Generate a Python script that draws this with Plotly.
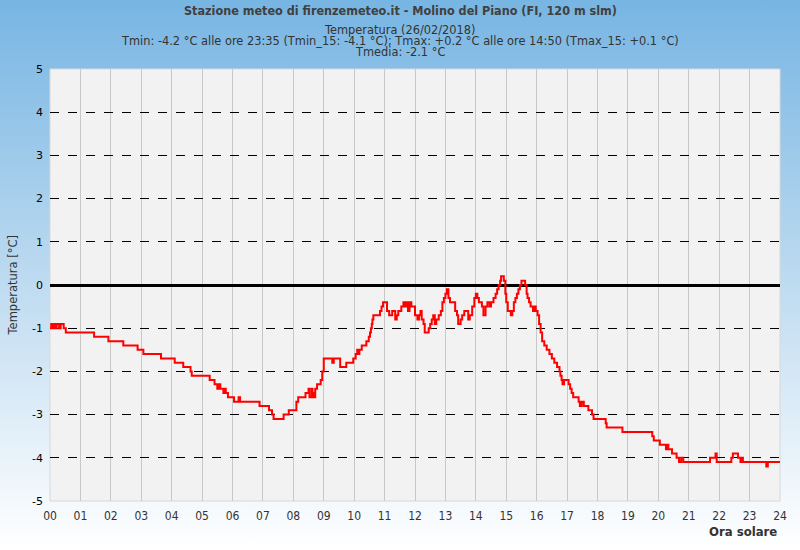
import base64
import plotly.graph_objects as go

# Step-change points of the temperature record (hour of day, °C)
hours = [
    0.00, 0.04, 0.08, 0.12, 0.17, 0.22, 0.30, 0.35, 0.45, 0.52,
    1.45, 1.92, 2.41, 2.88, 3.07, 3.65, 4.10, 4.38, 4.62, 4.66,
    5.25, 5.41, 5.50, 5.55, 5.60, 5.70, 5.74, 5.78, 5.85, 6.05, 6.20, 6.25,
    6.89, 7.20, 7.30, 7.35, 7.68, 7.85, 8.10, 8.16, 8.40, 8.50, 8.53, 8.60, 8.63, 8.66,
    8.72, 8.78, 8.90, 8.95, 9.00,
    9.28, 9.33, 9.54, 9.74, 9.97, 10.05, 10.10, 10.13, 10.17, 10.25, 10.40, 10.48,
    10.52, 10.55, 10.58, 10.60, 10.63, 10.85, 10.90, 10.95, 11.08, 11.15, 11.25,
    11.35, 11.40, 11.45, 11.55, 11.62, 11.68, 11.72, 11.77, 11.82, 11.88,
    12.00, 12.08, 12.13, 12.18, 12.22, 12.28, 12.32, 12.45, 12.50, 12.55, 12.60,
    12.65, 12.70, 12.78, 12.85, 12.90, 12.95, 13.00, 13.05, 13.10, 13.15, 13.25,
    13.32, 13.38, 13.42, 13.50, 13.55, 13.62, 13.75, 13.80, 13.88, 13.95, 14.00,
    14.05, 14.10, 14.20, 14.25, 14.32, 14.38, 14.45, 14.50, 14.58, 14.65, 14.70,
    14.75, 14.80, 14.83, 14.92, 14.97, 15.00, 15.05, 15.15, 15.20, 15.25, 15.30,
    15.35, 15.40, 15.45, 15.50, 15.62, 15.67, 15.70, 15.75, 15.80, 15.88, 15.92,
    15.97, 16.03, 16.08, 16.13, 16.18, 16.25, 16.33, 16.42, 16.50, 16.58, 16.67,
    16.75, 16.78, 16.82, 16.85, 16.90, 17.05, 17.10, 17.15, 17.20, 17.38, 17.42,
    17.48, 17.55, 17.70, 17.82, 17.87, 18.27, 18.30, 18.78, 18.82, 19.80, 19.85,
    20.05, 20.25, 20.30, 20.33, 20.45, 20.60, 20.68, 20.75, 20.82, 21.70, 21.88,
    21.92, 22.40, 22.45, 22.62, 22.70, 22.75, 22.78, 23.55, 23.60, 24.00,
]
temps = [
    -1.0, -0.9, -1.0, -0.9, -1.0, -0.9, -1.0, -0.9, -1.0, -1.1,
    -1.2, -1.3, -1.4, -1.5, -1.6, -1.7, -1.8, -1.9, -2.0, -2.1,
    -2.2, -2.3, -2.4, -2.3, -2.4, -2.5, -2.4, -2.5, -2.6, -2.7, -2.6, -2.7,
    -2.8, -2.9, -3.0, -3.1, -3.0, -2.9, -2.7, -2.6, -2.5, -2.4, -2.6, -2.4, -2.5, -2.6,
    -2.4, -2.3, -2.2, -2.0, -1.7,
    -1.8, -1.7, -1.9, -1.8, -1.7, -1.6, -1.5, -1.6, -1.5, -1.4, -1.3, -1.2,
    -1.1, -1.0, -0.9, -0.8, -0.7, -0.6, -0.5, -0.4, -0.6, -0.7, -0.6,
    -0.8, -0.7, -0.6, -0.5, -0.4, -0.5, -0.4, -0.6, -0.4, -0.5,
    -0.7, -0.8, -0.7, -0.6, -0.8, -0.9, -1.1, -1.0, -0.9, -0.8, -0.7,
    -0.9, -0.8, -0.7, -0.6, -0.4, -0.3, -0.2, -0.1, -0.3, -0.4, -0.4,
    -0.6, -0.7, -0.9, -0.8, -0.7, -0.6, -0.8, -0.7, -0.5, -0.3, -0.2,
    -0.3, -0.4, -0.5, -0.7, -0.5, -0.4, -0.5, -0.4, -0.3, -0.2, -0.1,
    0.0, 0.1, 0.2, 0.1, -0.2, -0.4, -0.6, -0.7, -0.6, -0.4, -0.3,
    -0.2, -0.1, 0.0, 0.1, 0.0, -0.2, -0.3, -0.4, -0.5, -0.6, -0.5,
    -0.6, -0.7, -0.9, -1.1, -1.3, -1.4, -1.5, -1.6, -1.7, -1.8, -1.9,
    -2.0, -2.1, -2.2, -2.3, -2.2, -2.3, -2.4, -2.5, -2.6, -2.7, -2.8,
    -2.7, -2.8, -2.9, -3.0, -3.1, -3.2, -3.3, -3.3, -3.4, -3.5, -3.6,
    -3.7, -3.8, -3.7, -3.8, -3.9, -4.0, -4.1, -4.0, -4.1, -4.0, -3.9,
    -4.1, -4.0, -3.9, -4.0, -4.1, -4.0, -4.1, -4.2, -4.1, -4.1,
]

x_tick_vals = list(range(0, 25))
x_tick_text = [f"{h:02d}" for h in x_tick_vals]
y_tick_vals = list(range(-5, 6))
y_tick_text = [str(v) for v in y_tick_vals]

title_text = "Stazione meteo di firenzemeteo.it - Molino del Piano (FI, 120 m slm)"
subtitle_lines = [
    "Temperatura (26/02/2018)",
    "Tmin: -4.2 °C alle ore 23:35 (Tmin_15: -4.1 °C); Tmax: +0.2 °C alle ore 14:50 (Tmax_15: +0.1 °C)",
    "Tmedia: -2.1 °C",
]

W, H = 800, 550
ML, MR, MT, MB = 50, 20, 69, 49
PW, PH = W - ML - MR, H - MT - MB

svg = (
    f'<svg xmlns="http://www.w3.org/2000/svg" width="{W}" height="{H}" preserveAspectRatio="none">'
    '<defs><linearGradient id="g" x1="0" y1="0" x2="0" y2="1">'
    '<stop offset="0" stop-color="#77b5e3"/>'
    '<stop offset="0.5" stop-color="#bcdaf0"/>'
    '<stop offset="1" stop-color="#ffffff"/>'
    '</linearGradient></defs>'
    f'<rect width="{W}" height="{H}" fill="url(#g)"/></svg>'
)
bg_src = "data:image/svg+xml;base64," + base64.b64encode(svg.encode()).decode()


def py(pix_y):
    """Convert a pixel row (from top of figure) to paper y."""
    return 1 - (pix_y - MT) / PH


def px(pix_x):
    return (pix_x - ML) / PW


fig = go.Figure()
fig.add_trace(go.Scatter(
    x=hours, y=temps, mode="lines", line=dict(color="#ff0000", width=2, shape="hv"),
    hoverinfo="x+y", showlegend=False,
))

cond = "DejaVu Sans Condensed, Liberation Sans Narrow, sans-serif"

annotations = [
    dict(text=f"<b>{title_text}</b>", xref="paper", yref="paper",
         x=px(400), y=py(10), xanchor="center", yanchor="middle",
         showarrow=False, font=dict(family=cond, size=12.5, color="#404040")),
]
for i, line in enumerate(subtitle_lines):
    annotations.append(dict(
        text=line, xref="paper", yref="paper",
        x=px(400), y=py(29.5 + 11.3 * i), xanchor="center", yanchor="middle",
        showarrow=False, font=dict(family="DejaVu Sans", size=11.4, color="#333333")))
annotations += [
    dict(text="<b>Ora solare</b>", xref="paper", yref="paper",
         x=px(779), y=py(531), xanchor="right", yanchor="middle",
         showarrow=False, font=dict(family=cond, size=13, color="#333333")),
    dict(text="Temperatura [°C]", xref="paper", yref="paper",
         x=px(12.5), y=py(286), xanchor="center", yanchor="middle", textangle=-90,
         showarrow=False, font=dict(family="DejaVu Sans", size=11.5, color="#333333")),
]

fig.update_layout(
    width=W, height=H,
    margin=dict(l=ML, r=MR, t=MT, b=MB),
    paper_bgcolor="#ffffff",
    plot_bgcolor="#f2f2f2",
    images=[dict(
        source=bg_src, xref="paper", yref="paper",
        x=-ML / PW, y=1 + MT / PH, sizex=W / PW, sizey=H / PH,
        xanchor="left", yanchor="top", sizing="stretch", layer="below",
    )],
    shapes=[dict(
        type="rect", xref="paper", yref="paper", x0=0, x1=1, y0=0, y1=1,
        fillcolor="#f2f2f2", line=dict(color="#d8d8d8", width=1), layer="below",
    )],
    xaxis=dict(
        range=[0, 24], tickvals=x_tick_vals, ticktext=x_tick_text,
        showgrid=True, gridcolor="#c8c8c8", gridwidth=1,
        zeroline=False, showline=False, ticks="", ticklabelstandoff=6,
        tickfont=dict(family=cond, size=12, color="#333333"),
        fixedrange=True,
    ),
    yaxis=dict(
        range=[-5, 5], tickvals=y_tick_vals, ticktext=y_tick_text,
        showgrid=True, gridcolor="#000000", gridwidth=1, griddash="dash",
        zeroline=True, zerolinecolor="#000000", zerolinewidth=2.5,
        showline=False, ticks="", ticklabelstandoff=6,
        tickfont=dict(family="DejaVu Sans", size=11, color="#000000"),
        fixedrange=True,
    ),
    annotations=annotations,
)

fig.write_html("out.html")
